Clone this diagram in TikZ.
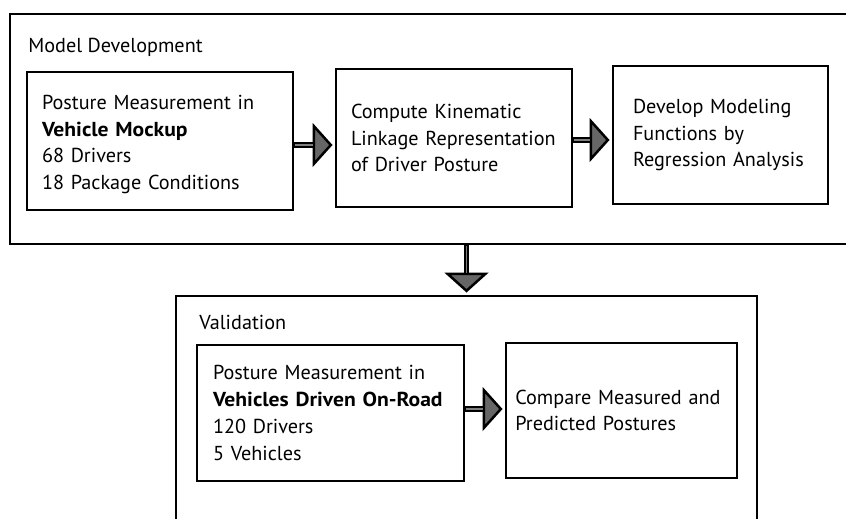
\documentclass[tikz,border=0pt]{standalone}
\usepackage{fontspec}
\setmainfont[BoldFeatures={FakeStretch=1.07}]{PT Sans}
\usepackage{tikz}
\usetikzlibrary{arrows.meta}

\begin{document}
\begin{tikzpicture}[x=0.02cm, y=-0.02cm,
    box/.style={draw, line width=0.04cm, align=left, inner xsep=0pt, inner ysep=0pt, font=\fontsize{11.5}{15.2}\selectfont},
    group/.style={draw, line width=0.04cm},
    title/.style={anchor=base west, inner sep=0pt, font=\fontsize{11.5}{15.2}\selectfont},
    flow/.style={line width=0.11cm, -{Triangle[length=0.4cm, width=0.88cm, line width=0.05cm, fill=black!60]}, shorten >=0.05cm,
      postaction={draw=black!50, line width=0.035cm, -, shorten <=0.03cm, shorten >=0.44cm}}]

    \useasboundingbox (0, 0) rectangle (846, 518);
    \clip (0, 0) rectangle (846, 518);

    % model development
    \node[group, minimum width=16.8cm, minimum height=4.6cm]  (dev) at (430, 129)   {};
    \node[title]                                             (devt) at (28, 52)   {Model Development};
    \node[box, minimum width=5.32cm, minimum height=2.76cm, text width=4.72cm, text height=12pt] (mock) at (160, 141)
        {Posture Measurement in\\ \textbf{Vehicle Mockup}\\ 68 Drivers\\ 18 Package Conditions};
    \node[box, minimum width=4.72cm, minimum height=2.76cm, text width=4.12cm] (kin) at (454, 138)
        {Compute Kinematic\\ Linkage Representation\\ of Driver Posture};
    \node[box, minimum width=4.3cm, minimum height=2.76cm, text width=3.5cm]  (reg) at (720.5, 135)
        {Develop Modeling\\ Functions by\\ Regression Analysis};

    % validation
    \node[group, minimum width=11.62cm, minimum height=4.58cm] (val) at (466.5, 410.5) {};
    \node[title]                                             (valt) at (199, 329)  {Validation};
    \node[box, minimum width=5.34cm, minimum height=2.72cm, text width=4.7cm]  (road) at (330.5, 413)
        {Posture Measurement in\\ \textbf{Vehicles Driven On-Road}\\ 120 Drivers\\ 5 Vehicles};
    \node[box, minimum width=4.62cm, minimum height=2.7cm, text width=4.25cm]   (comp) at (621.5, 410.5)
        {Compare Measured and\\ Predicted Postures};

    \draw ([yshift=-0.08cm]mock.east) edge[flow] ([yshift=-0.08cm]mock.east -| kin.west);
    \draw ([yshift=-0.04cm]kin.east) edge[flow] ([yshift=-0.04cm]kin.east -| reg.west);
    \draw (dev.south -| val.north) edge[flow] (val.north);
    \draw ([yshift=0.08cm]road.east) edge[flow] ([yshift=0.08cm]road.east -| comp.west);
\end{tikzpicture}
\end{document}
